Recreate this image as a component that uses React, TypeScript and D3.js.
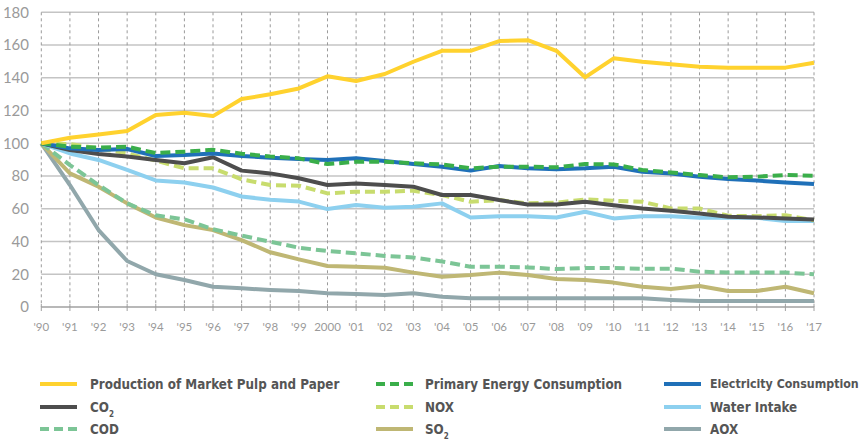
import React from "react";
import * as d3 from "d3";

const years = ["'90","'91","'92","'93","'94","'95","'96","'97","'98","'99","2000","'01","'02","'03","'04","'05","'06","'07","'08","'09","'10","'11","'12","'13","'14","'15","'16","'17"];
const yTicks = [0, 20, 40, 60, 80, 100, 120, 140, 160, 180];

const production = [100,103.4,105.4,107.5,117.3,118.7,116.6,127,129.9,133.5,140.9,138,142.3,149.8,156.5,156.5,162.4,163,156.5,140.3,151.9,149.8,148.2,146.8,146.2,146.2,146.2,149.2];
const primaryEnergy = [100,97.9,97.3,97.9,94,94.9,96,93.6,92,90.8,87.3,88.7,88.7,87.8,87.1,84.7,85.7,85.7,85.3,87.3,87.1,83.7,82.2,80.6,79.2,79.6,80.6,80.2];
const electricity = [100,96.9,95.9,96.5,92.2,92.8,93.8,92.2,91.2,90.4,89.8,90.8,89.2,87.3,85.7,83.3,86.1,84.7,84.1,84.7,85.7,82.6,81.6,79.6,78.2,77.2,76,75.1];
const co2 = [100,95.9,93.5,91.9,89.8,87.8,91.5,83.3,81.6,78.6,74.5,75.5,74.5,73.5,68.4,68.4,65.3,62.6,62.6,64.3,62.2,60.2,58.8,57.1,55.1,54.7,54.1,53.5];
const nox = [100,99.5,96.9,93.8,89.4,84.7,84.7,78,74.5,74.1,69.4,70.4,70.4,71,68.4,64.3,65.3,63.3,63.7,65.7,64.9,64.3,60.2,60.2,55.7,55.5,56.1,53];
const water = [100,93.8,89.8,83.7,77.3,76,73,67.5,65.5,64.4,59.8,62.3,60.6,61.2,63.3,54.7,55.5,55.5,54.7,58.2,54.1,55.5,55.5,54.5,54.5,54.5,52.5,52.5];
const cod = [100,86.7,74.5,63.3,56,53.5,47.5,43.6,39.9,36.2,34.2,32.8,31.2,30.2,27.8,24.6,24.6,24.2,23.2,23.8,23.8,23.4,23.4,21.6,21,21,21,20];
const so2 = [100,81.6,73.5,63.3,54.7,50,47,40.9,33.4,29.1,25,24.6,24,21,18.5,19.5,21,19.5,17.1,16.5,14.9,12.4,11,12.8,9.8,9.8,12.4,8.4];
const aox = [100,74.5,47,28.1,20,16.5,12.4,11.4,10.4,9.7,8.4,8,7.4,8.4,6.3,5.3,5.3,5.3,5.3,5.3,5.3,5.3,4.3,3.6,3.6,3.6,3.6,3.6];

type S = { name: string; sub?: string; values: number[]; color: string; dashed: boolean };

const seriesList: S[] = [
  { name: "Production of Market Pulp and Paper", values: production, color: "#ffd22e", dashed: false },
  { name: "CO", sub: "2", values: co2, color: "#4d4d4d", dashed: false },
  { name: "COD", values: cod, color: "#7cc596", dashed: true },
  { name: "Primary Energy Consumption", values: primaryEnergy, color: "#3aae4a", dashed: true },
  { name: "NOX", values: nox, color: "#c8dc6e", dashed: true },
  { name: "SO", sub: "2", values: so2, color: "#bfb774", dashed: false },
  { name: "Electricity Consumption", values: electricity, color: "#1f70b8", dashed: false },
  { name: "Water Intake", values: water, color: "#8dd0ef", dashed: false },
  { name: "AOX", values: aox, color: "#91a7ab", dashed: false },
];

const drawOrder = ["AOX", "SO", "COD", "Water Intake", "NOX", "CO", "Electricity Consumption", "Primary Energy Consumption", "Production of Market Pulp and Paper"];

export default function App() {
  const W = 866, H = 441;
  const x = d3.scaleLinear().domain([0, years.length - 1]).range([41.3, 814]);
  const y = d3.scaleLinear().domain([0, 180]).range([307, 12.3]);
  const line = d3.line<number>().x((_, i) => x(i)).y((d) => y(d)).curve(d3.curveLinear);

  const ordered = drawOrder.map((n) => seriesList.find((s) => s.name === n)!);
  const legendCols = [
    { lx: 40, tx: 90 },
    { lx: 376, tx: 425 },
    { lx: 664, tx: 710 },
  ];
  const legendRows = [384, 407, 429];

  return (
    <svg width={W} height={H} style={{ position: "absolute", left: 0, top: 0 }}>
      <rect width={W} height={H} fill="#fff" />
      {yTicks.filter((t) => t > 0).map((t) => (
        <line key={"h" + t} x1={x(0)} x2={x(years.length - 1)} y1={y(t)} y2={y(t)} stroke="#c4c4c4" strokeWidth={1.5} />
      ))}
      {years.map((_, i) => (
        <line key={"v" + i} x1={x(i)} x2={x(i)} y1={y(180)} y2={y(0)} stroke="#9a9a9a" strokeWidth={1} strokeDasharray="3,3" />
      ))}
      <line x1={x(0)} x2={x(years.length - 1)} y1={y(0)} y2={y(0)} stroke="#a0a0a0" strokeWidth={1.5} />
      {years.map((_, i) => (
        <line key={"t" + i} x1={x(i)} x2={x(i)} y1={y(0) - 3} y2={y(0) + 4} stroke="#a0a0a0" strokeWidth={1} />
      ))}
      {yTicks.map((t) => (
        <text key={"yl" + t} x={29} y={y(t)} dy="0.35em" textAnchor="end" fontFamily="Lato, 'Open Sans', sans-serif" fontSize={15} fill="#9a9a9a">{t}</text>
      ))}
      {years.map((lab, i) => (
        <text key={"xl" + i} x={x(i)} y={327} dy="0.35em" textAnchor="middle" fontFamily="Lato, 'Open Sans', sans-serif" fontSize={11.5} fill="#9a9a9a">{lab}</text>
      ))}
      {ordered.map((s) => (
        <path key={s.name} d={line(s.values) || ""} fill="none" stroke={s.color} strokeWidth={4} strokeLinejoin="round" strokeDasharray={s.dashed ? "10,5" : undefined} />
      ))}
      {seriesList.map((s, k) => {
        const col = legendCols[Math.floor(k / 3)];
        const ry = legendRows[k % 3];
        const fit = s.name === "Electricity Consumption";
        return (
          <g key={"lg" + k}>
            <line x1={col.lx} x2={col.lx + 37} y1={ry} y2={ry} stroke={s.color} strokeWidth={4} strokeDasharray={s.dashed ? "9,5" : undefined} />
            <text x={col.tx} y={ry} dy="0.35em" fontFamily="'DejaVu Sans Condensed', 'Liberation Sans Narrow', sans-serif" fontStretch="condensed" fontSize={fit ? 12.3 : 13.3} fontWeight={700} fill="#555">
              {s.name}
              {s.sub ? <tspan dy={5} fontSize={8}>{s.sub}</tspan> : null}
            </text>
          </g>
        );
      })}
    </svg>
  );
}
